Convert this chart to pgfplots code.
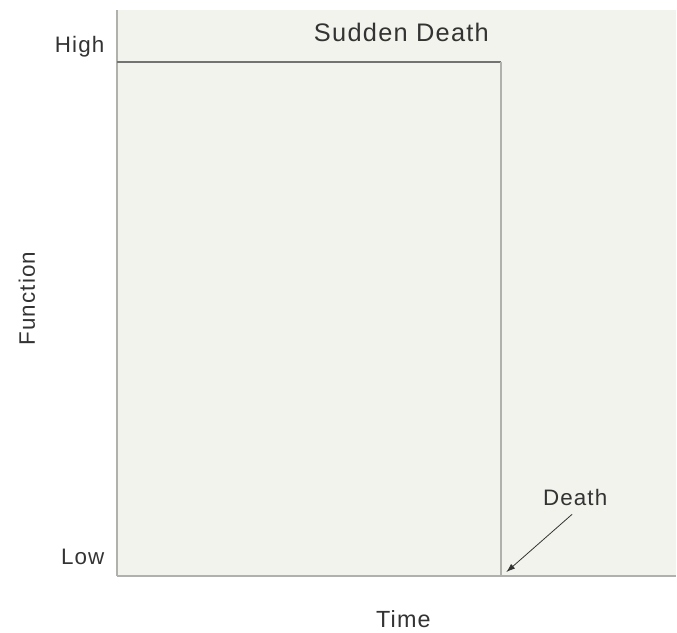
\documentclass[border=0pt]{standalone}
\usepackage{pgfplots}
\pgfplotsset{compat=1.18}
\usetikzlibrary{arrows.meta}
\usepackage{fontspec}
\setmainfont[LetterSpace=5]{Liberation Sans}
\definecolor{bgc}{HTML}{F3F3EE}
\definecolor{axc}{HTML}{B0B0AC}
\definecolor{txc}{HTML}{333333}
\begin{document}
\begin{tikzpicture}
\begin{axis}[
  scale only axis, width=560bp, height=567bp,
  xmin=0, xmax=560, ymin=0, ymax=567,
  axis x line=bottom, axis y line=left,
  axis line style={draw=axc, line width=2bp, -},
  axis background/.style={fill=bgc},
  xtick=\empty,
  ytick={19,530}, yticklabels={Low,High},
  major tick length=0pt,
  yticklabel style={font=\fontsize{22.5}{26}\selectfont, text=txc, xshift=-9bp},
  /pgf/number format/assume math mode=true,
  xlabel={Time}, ylabel={Function},
  xlabel style={font=\fontsize{23.5}{27}\selectfont, text=txc, at={(axis cs:287,-43)}, anchor=center},
  ylabel style={font=\fontsize{22.5}{26}\selectfont, text=txc, at={(axis cs:-90,278)}, anchor=center, rotate=0},
  clip=false,
]
\addplot[draw=gray!90!black, line width=2.2bp] coordinates {(0,515) (385,515)};
\addplot[draw=axc, line width=2.2bp] coordinates {(385,515) (385,0)};
\node[font=\fontsize{25.5}{29}\selectfont, text=txc] at (axis cs:285,545) {Sudden Death};
\node[font=\fontsize{22.5}{26}\selectfont, text=txc] at (axis cs:459,79) {Death};
\draw[-{Latex[length=9bp,width=6bp]}, draw=txc, line width=0.8bp] (axis cs:456,62) -- (axis cs:390,4);
\end{axis}
\path (-117bp,-56bp) rectangle (560bp,577bp);
\end{tikzpicture}
\end{document}
